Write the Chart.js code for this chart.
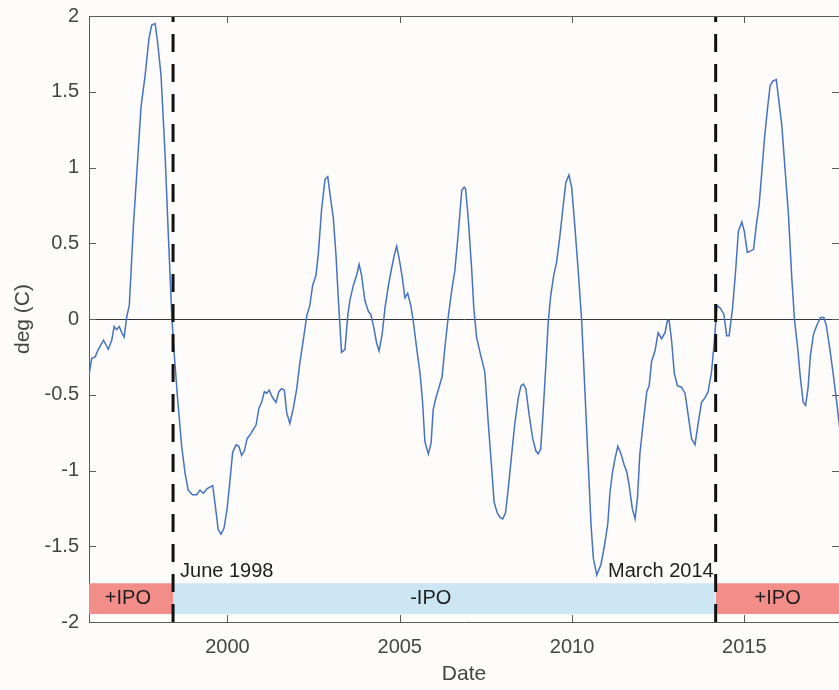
<!DOCTYPE html>
<html>
<head>
<meta charset="utf-8">
<script src="https://cdn.jsdelivr.net/npm/chart.js@4.4.1/dist/chart.umd.min.js"></script>
<style>
  html, body { margin: 0; padding: 0; background: #fdfcfb; }
  #wrap { position: relative; width: 839px; height: 690px; }
</style>
</head>
<body>
<div id="wrap"><canvas id="ipoChart"></canvas></div>
<script>
// decimal year of each point
var dates = [
  1995.98, 1996.06, 1996.16, 1996.25, 1996.40, 1996.54, 1996.64, 1996.71, 1996.78, 1996.86,
  1996.93, 1997.00, 1997.08, 1997.15, 1997.27, 1997.37, 1997.49, 1997.61, 1997.72, 1997.80,
  1997.90, 1997.97, 1998.07, 1998.19, 1998.28, 1998.38, 1998.43, 1998.55, 1998.67, 1998.77,
  1998.86, 1998.98, 1999.11, 1999.20, 1999.30, 1999.41, 1999.49, 1999.57, 1999.64, 1999.73,
  1999.81, 1999.90, 1999.99, 2000.07, 2000.15, 2000.25, 2000.33, 2000.41, 2000.49, 2000.57,
  2000.67, 2000.77, 2000.83, 2000.91, 2000.99, 2001.07, 2001.14, 2001.21, 2001.31, 2001.41,
  2001.49, 2001.57, 2001.65, 2001.72, 2001.81, 2001.91, 2002.01, 2002.10, 2002.20, 2002.30,
  2002.39, 2002.47, 2002.57, 2002.64, 2002.73, 2002.83, 2002.91, 2002.99, 2003.07, 2003.15,
  2003.22, 2003.31, 2003.41, 2003.49, 2003.55, 2003.65, 2003.75, 2003.82, 2003.89, 2003.99,
  2004.09, 2004.16, 2004.25, 2004.33, 2004.40, 2004.49, 2004.57, 2004.67, 2004.76, 2004.84,
  2004.91, 2004.99, 2005.07, 2005.15, 2005.23, 2005.32, 2005.39, 2005.49, 2005.59, 2005.66,
  2005.73, 2005.83, 2005.91, 2005.97, 2006.05, 2006.14, 2006.23, 2006.31, 2006.41, 2006.51,
  2006.60, 2006.70, 2006.80, 2006.87, 2006.91, 2006.99, 2007.09, 2007.15, 2007.23, 2007.35,
  2007.47, 2007.57, 2007.67, 2007.74, 2007.83, 2007.91, 2007.99, 2008.07, 2008.15, 2008.25,
  2008.34, 2008.44, 2008.52, 2008.59, 2008.66, 2008.76, 2008.86, 2008.95, 2009.02, 2009.09,
  2009.16, 2009.24, 2009.31, 2009.38, 2009.47, 2009.55, 2009.65, 2009.73, 2009.82, 2009.91,
  2009.99, 2010.08, 2010.18, 2010.28, 2010.37, 2010.47, 2010.55, 2010.62, 2010.72, 2010.84,
  2010.94, 2011.04, 2011.10, 2011.17, 2011.25, 2011.33, 2011.42, 2011.51, 2011.59, 2011.66,
  2011.75, 2011.83, 2011.90, 2011.97, 2012.07, 2012.17, 2012.24, 2012.31, 2012.41, 2012.50,
  2012.60, 2012.70, 2012.77, 2012.82, 2012.89, 2012.97, 2013.06, 2013.18, 2013.28, 2013.37,
  2013.47, 2013.57, 2013.66, 2013.76, 2013.86, 2013.95, 2014.05, 2014.13, 2014.21, 2014.31,
  2014.41, 2014.49, 2014.56, 2014.66, 2014.75, 2014.83, 2014.93, 2015.00, 2015.09, 2015.19,
  2015.27, 2015.35, 2015.43, 2015.51, 2015.59, 2015.68, 2015.75, 2015.83, 2015.93, 2016.01,
  2016.09, 2016.19, 2016.28, 2016.38, 2016.46, 2016.55, 2016.63, 2016.71, 2016.78, 2016.85,
  2016.92, 2017.01, 2017.11, 2017.21, 2017.31, 2017.38, 2017.48, 2017.58, 2017.68, 2017.77
];

// temperature anomaly, deg C
var anomaly = [
  -0.37, -0.26, -0.25, -0.20, -0.14, -0.20, -0.14, -0.05, -0.07, -0.05,
  -0.09, -0.12,  0.02,  0.09,  0.62,  0.97,  1.40,  1.61,  1.85,  1.94,
   1.95,  1.83,  1.61,  1.08,  0.57,  0.04, -0.16, -0.52, -0.84, -1.02,
  -1.13, -1.16, -1.16, -1.13, -1.15, -1.12, -1.11, -1.10, -1.22, -1.39,
  -1.42, -1.38, -1.25, -1.07, -0.88, -0.83, -0.84, -0.90, -0.87, -0.79,
  -0.76, -0.72, -0.70, -0.59, -0.55, -0.48, -0.49, -0.47, -0.52, -0.55,
  -0.48, -0.46, -0.47, -0.62, -0.69, -0.59, -0.46, -0.29, -0.14,  0.02,
   0.09,  0.22,  0.29,  0.44,  0.72,  0.92,  0.94,  0.80,  0.67,  0.42,
   0.12, -0.22, -0.20,  0.02,  0.12,  0.22,  0.29,  0.36,  0.29,  0.12,
   0.05,  0.03, -0.06, -0.16, -0.21, -0.10,  0.07,  0.22,  0.33,  0.42,
   0.48,  0.39,  0.28,  0.14,  0.17,  0.09, -0.01, -0.19, -0.36, -0.54,
  -0.81, -0.89, -0.82, -0.60, -0.52, -0.45, -0.38, -0.19,  0.02,  0.19,
   0.32,  0.57,  0.85,  0.87,  0.86,  0.66,  0.32,  0.07, -0.12, -0.24,
  -0.35, -0.69, -0.99, -1.21, -1.28, -1.31, -1.32, -1.28, -1.12, -0.89,
  -0.69, -0.52, -0.44, -0.43, -0.46, -0.64, -0.79, -0.87, -0.89, -0.86,
  -0.62, -0.31, -0.02,  0.15,  0.29,  0.37,  0.55,  0.72,  0.90,  0.95,
   0.87,  0.62,  0.32, -0.01, -0.45, -0.95, -1.35, -1.58, -1.69, -1.62,
  -1.50, -1.35, -1.15, -1.02, -0.92, -0.84, -0.89, -0.96, -1.01, -1.10,
  -1.25, -1.32, -1.18, -0.89, -0.68, -0.48, -0.44, -0.28, -0.21, -0.09,
  -0.13, -0.09, -0.01, -0.01, -0.14, -0.36, -0.44, -0.45, -0.49, -0.63,
  -0.79, -0.83, -0.69, -0.55, -0.52, -0.48, -0.35, -0.15,  0.09,  0.07,
   0.03, -0.11, -0.11,  0.07,  0.32,  0.58,  0.64,  0.58,  0.44,  0.45,
   0.46,  0.62,  0.75,  0.97,  1.20,  1.40,  1.54,  1.57,  1.58,  1.43,
   1.28,  0.97,  0.70,  0.27, -0.01, -0.19, -0.39, -0.55, -0.57, -0.46,
  -0.24, -0.10, -0.04,  0.01,  0.01, -0.04, -0.19, -0.36, -0.54, -0.72
];

var xTicks = [2000, 2005, 2010, 2015];
var yTicks = [-2, -1.5, -1, -0.5, 0, 0.5, 1, 1.5, 2];

// IPO phases
var phaseStart = [1995.98, 1998.42, 2014.17];
var phaseEnd = [1998.42, 2014.17, 2017.75];
var phaseNames = ['+IPO', '-IPO', '+IPO'];
var phaseNameAt = [1997.11, 2005.9, 2015.97];
var phaseColors = ['#f28d8a', '#cde6f4', '#f28d8a'];
var bandTop = -1.745;
var bandBottom = -1.947;

// phase changes
var changeDates = [1998.42, 2014.17];
var changeNames = ['June 1998', 'March 2014'];

var points = dates.map(function (d, i) { return { x: d, y: anomaly[i] }; });

var datasets = [{
  label: 'anomaly',
  data: points,
  borderColor: '#4672c0',
  borderWidth: 1.5,
  pointRadius: 0,
  tension: 0,
  fill: false,
  order: 1
}];

changeDates.forEach(function (d) {
  datasets.push({
    data: [{ x: d, y: -2 }, { x: d, y: 2 }],
    borderColor: '#111111',
    borderWidth: 3,
    borderDash: [18, 12],
    pointRadius: 0,
    fill: false,
    order: 0
  });
});

phaseStart.forEach(function (s, i) {
  datasets.push({
    data: [{ x: s, y: bandTop }, { x: phaseEnd[i], y: bandTop }],
    borderWidth: 0,
    borderColor: 'rgba(0,0,0,0)',
    backgroundColor: phaseColors[i],
    pointRadius: 0,
    fill: { value: bandBottom },
    order: 2
  });
});

// inward ticks on all sides, top box line, text notes
var framePlugin = {
  id: 'frame',
  afterDraw: function (chart) {
    var ctx = chart.ctx;
    var a = chart.chartArea;
    var xs = chart.scales.x;
    var ys = chart.scales.y;
    ctx.save();
    ctx.strokeStyle = '#5a5a5a';
    ctx.lineWidth = 1;
    ctx.beginPath();
    ctx.moveTo(a.left, a.top + 0.5);
    ctx.lineTo(a.right, a.top + 0.5);
    xTicks.forEach(function (t) {
      var px = Math.round(xs.getPixelForValue(t)) + 0.5;
      ctx.moveTo(px, a.bottom);
      ctx.lineTo(px, a.bottom - 7);
      ctx.moveTo(px, a.top);
      ctx.lineTo(px, a.top + 7);
    });
    yTicks.forEach(function (t) {
      var py = Math.round(ys.getPixelForValue(t)) + 0.5;
      ctx.moveTo(a.left, py);
      ctx.lineTo(a.left + 7, py);
      ctx.moveTo(a.right, py);
      ctx.lineTo(a.right - 7, py);
    });
    ctx.stroke();

    ctx.fillStyle = '#1e1e1e';
    ctx.font = '20px "Liberation Sans", Arial, sans-serif';
    ctx.textBaseline = 'middle';
    ctx.textAlign = 'center';
    phaseNames.forEach(function (n, i) {
      ctx.fillText(n, xs.getPixelForValue(phaseNameAt[i]), ys.getPixelForValue((bandTop + bandBottom) / 2));
    });
    ctx.textAlign = 'left';
    ctx.fillText(changeNames[0], xs.getPixelForValue(changeDates[0]) + 7, ys.getPixelForValue(-1.665));
    ctx.textAlign = 'right';
    ctx.fillText(changeNames[1], xs.getPixelForValue(changeDates[1]) - 2, ys.getPixelForValue(-1.665));
    ctx.restore();
  }
};

var ctx = document.getElementById('ipoChart').getContext('2d');
var chart = new Chart(ctx, {
  type: 'line',
  data: { datasets: datasets },
  options: {
    responsive: true,
    maintainAspectRatio: false,
    animation: false,
    layout: { padding: { top: 16, right: 0, left: 0, bottom: 0 } },
    plugins: { legend: { display: false }, tooltip: { enabled: false } },
    scales: {
      x: {
        type: 'linear',
        min: 1995.98,
        max: 2017.75,
        afterBuildTicks: function (s) { s.ticks = xTicks.map(function (v) { return { value: v }; }); },
        afterFit: function (s) {
          s.height = 68;
          s.paddingLeft = 0;
          s.paddingRight = 0;
        },
        grid: { display: false, drawTicks: false },
        border: { display: true, color: '#5a5a5a', width: 1 },
        ticks: {
          color: '#444444',
          padding: 13,
          maxRotation: 0,
          font: { family: '"Liberation Sans", Arial, sans-serif', size: 20 },
          callback: function (v) { return String(v); }
        },
        title: {
          display: true,
          text: 'Date',
          color: '#444444',
          font: { family: '"Liberation Sans", Arial, sans-serif', size: 21 },
          padding: { top: 0, bottom: 3 }
        }
      },
      y: {
        min: -2,
        max: 2,
        afterBuildTicks: function (s) { s.ticks = yTicks.map(function (v) { return { value: v }; }); },
        afterFit: function (s) {
          s.width = 89;
          s.paddingTop = 0;
          s.paddingBottom = 0;
        },
        grid: {
          drawTicks: false,
          color: function (c) { return c.tick && c.tick.value === 0 ? '#333333' : 'rgba(0,0,0,0)'; },
          lineWidth: 1
        },
        border: { display: true, color: '#5a5a5a', width: 1 },
        ticks: {
          color: '#444444',
          padding: 10,
          font: { family: '"Liberation Sans", Arial, sans-serif', size: 20 },
          callback: function (v) { return String(v); }
        },
        title: {
          display: true,
          text: 'deg (C)',
          color: '#444444',
          font: { family: '"Liberation Sans", Arial, sans-serif', size: 21 },
          padding: { top: 11, bottom: 0 }
        }
      }
    }
  },
  plugins: [framePlugin]
});
</script>
</body>
</html>
